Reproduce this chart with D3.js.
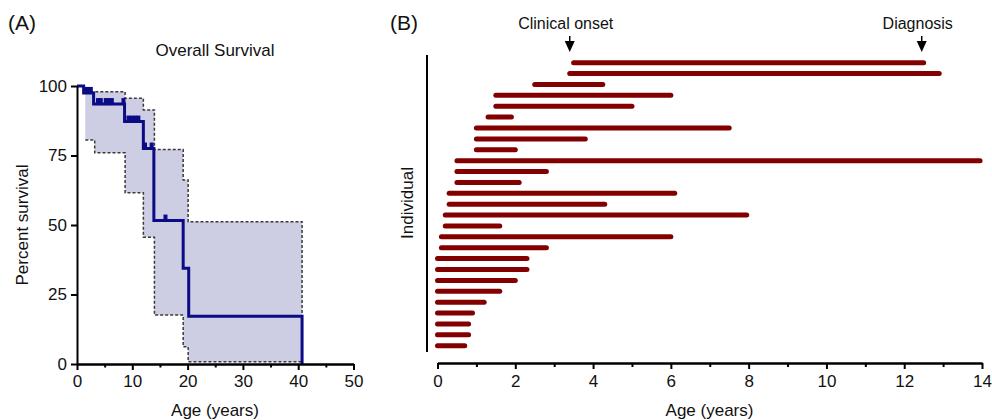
<!DOCTYPE html>
<html>
<head>
<meta charset="utf-8">
<script src="https://cdn.jsdelivr.net/npm/d3@7"></script>
<style>
  body { margin: 0; background: #fff; }
  svg { display: block; font-family: "Liberation Sans", Arial, Helvetica, sans-serif; }
</style>
</head>
<body>
<div id="wrapper"></div>
<script>
// ---- panel A: Kaplan-Meier overall survival ----
const kmTime = [0, 1.2, 3.0, 8.6, 12.0, 13.9, 19.2, 20.2, 40.7]
const kmSurv = [100, 97.5, 93.5, 87.2, 77.5, 51.6, 34.4, 17.2, 0]
const censorTime = [1.6, 2.0, 2.5, 3.8, 4.3, 5.2, 5.7, 6.3, 8.4, 9.3, 9.9, 10.5, 11.1, 12.3, 13.5, 16.0]
// 95% confidence band
const bandTime  = [1.5, 3.2, 8.7, 12.0, 14.0, 19.2, 20.1, 40.7]
const bandUpper = [97.9, 97.9, 95.6, 91.4, 77.2, 66.2, 51.2, 51.2]
const bandLower = [80.6, 76.0, 61.6, 45.6, 17.6, 6.2, 0.8, 0.8]
const survTicksMajor = [0, 10, 20, 30, 40, 50]
const survTicksMinor = [5, 15, 25, 35, 45]
const survYTicks = [0, 25, 50, 75, 100]

// ---- panel B: age at clinical onset -> diagnosis, one row per individual ----
const onsetAge     = [3.5, 3.4, 2.5, 1.5, 1.5, 1.3, 1.0, 1.0, 1.0, 0.5, 0.5, 0.5, 0.3, 0.3, 0.2, 0.2, 0.1, 0.1, 0, 0, 0, 0, 0, 0, 0, 0, 0]
const diagnosisAge = [12.5, 12.9, 4.25, 6.0, 5.0, 1.9, 7.5, 3.8, 2.0, 13.95, 2.8, 2.1, 6.1, 4.3, 7.95, 1.6, 6.0, 2.8, 2.3, 2.3, 2.0, 1.6, 1.2, 0.9, 0.8, 0.8, 0.7]
const markerLabels = ["Clinical onset", "Diagnosis"]
const markerAges   = [3.4, 12.45]
const ageTicksMajor = [0, 2, 4, 6, 8, 10, 12, 14]
const ageTicksMinor = [1, 3, 5, 7, 9, 11, 13]

const W = 992, H = 420
const navy = "#0b0b86", band = "#cdcde4", barRed = "#820000", ink = "#111"

const svg = d3.select("#wrapper").append("svg")
    .attr("width", W).attr("height", H)

function styleAxis(g) {
    g.attr("font-size", null).attr("font-family", null)
    g.select(".domain").attr("stroke", "#000").attr("stroke-width", 2)
    g.selectAll(".tick line").attr("stroke", "#000").attr("stroke-width", 2)
    g.selectAll(".tick text").attr("fill", ink).style("font-size", "17px")
}

// ================= panel A =================
const xA = d3.scaleLinear().domain([0, 50]).range([77, 353.5])
const yA = d3.scaleLinear().domain([0, 100]).range([364, 86])

// confidence band
const bandPts = bandTime.map((t, i) => ({t: t, lo: bandLower[i], hi: bandUpper[i]}))
svg.append("path")
    .datum(bandPts)
    .attr("fill", band)
    .attr("d", d3.area().curve(d3.curveStepAfter)
        .x(d => xA(d.t)).y0(d => yA(d.lo)).y1(d => yA(d.hi)))

const lineA = d3.line().curve(d3.curveStepAfter).x(d => xA(d[0])).y(d => yA(d[1]))
const nB = bandTime.length
const upperPts = bandTime.map((t, i) => [t, i == nB - 1 ? bandLower[i] : bandUpper[i]])
const lowerPts = bandTime.map((t, i) => [t, bandLower[i]])
for (pts of [upperPts, lowerPts]) {
    svg.append("path")
        .datum(pts)
        .attr("fill", "none")
        .attr("stroke", "#3a3a3a")
        .attr("stroke-width", 1.5)
        .attr("stroke-dasharray", "3,2")
        .attr("d", lineA)
}

// survival step curve
const kmPts = kmTime.map((t, i) => [t, kmSurv[i]])
svg.append("path")
    .datum(kmPts)
    .attr("fill", "none")
    .attr("stroke", navy)
    .attr("stroke-width", 3)
    .attr("d", lineA)

// censor ticks sit on the curve level at that time
function survAt(t) {
    let s = kmSurv[0]
    kmTime.forEach((k, i) => { if (k <= t) s = kmSurv[i] })
    return s
}
svg.selectAll(".censor")
    .data(censorTime)
    .enter()
    .append("line")
        .attr("class", "censor")
        .attr("x1", d => xA(d)).attr("x2", d => xA(d))
        .attr("y1", d => yA(survAt(d)) + 1)
        .attr("y2", d => yA(survAt(d)) - 6)
        .attr("stroke", navy)
        .attr("stroke-width", 4)

// axes A
svg.append("g")
    .attr("transform", `translate(0,${yA(0)})`)
    .call(d3.axisBottom(xA).tickValues(survTicksMajor).tickSize(6).tickSizeOuter(0).tickPadding(5))
    .call(styleAxis)
svg.append("g")
    .attr("transform", `translate(0,${yA(0)})`)
    .call(d3.axisBottom(xA).tickValues(survTicksMinor).tickSize(3.5).tickSizeOuter(0).tickFormat(""))
    .call(styleAxis)
svg.append("g")
    .attr("transform", `translate(${xA(0)},0)`)
    .call(d3.axisLeft(yA).tickValues(survYTicks).tickSize(6).tickSizeOuter(0).tickPadding(4))
    .call(styleAxis)

svg.append("text").attr("x", 8).attr("y", 30).attr("font-size", 21).attr("fill", ink).text("(A)")
svg.append("text").attr("x", 215).attr("y", 56).attr("text-anchor", "middle")
    .attr("font-size", 17).attr("fill", ink).text("Overall Survival")
svg.append("text").attr("transform", "translate(28,225) rotate(-90)").attr("text-anchor", "middle")
    .attr("font-size", 17).attr("fill", ink).text("Percent survival")
svg.append("text").attr("x", 215).attr("y", 416).attr("text-anchor", "middle")
    .attr("font-size", 17).attr("fill", ink).text("Age (years)")

// ================= panel B =================
const xB = d3.scaleLinear().domain([0, 14]).range([437.5, 982])
const yB = d3.scalePoint().domain(d3.range(onsetAge.length)).range([62.7, 345.7])

svg.selectAll(".span")
    .data(onsetAge.map((a, i) => ({i: i, from: a, to: diagnosisAge[i]})))
    .enter()
    .append("line")
        .attr("class", "span")
        .attr("x1", d => xB(d.from))
        .attr("x2", d => xB(d.to))
        .attr("y1", d => yB(d.i))
        .attr("y2", d => yB(d.i))
        .attr("stroke", barRed)
        .attr("stroke-width", 5)
        .attr("stroke-linecap", "round")

// "Individual" axis: a bare line
svg.append("line")
    .attr("x1", 427).attr("x2", 427).attr("y1", 55).attr("y2", 352)
    .attr("stroke", "#000").attr("stroke-width", 2)
svg.append("text").attr("transform", "translate(413,203) rotate(-90)").attr("text-anchor", "middle")
    .attr("font-size", 17).attr("fill", ink).text("Individual")

svg.append("g")
    .attr("transform", "translate(0,363)")
    .call(d3.axisBottom(xB).tickValues(ageTicksMajor).tickSize(6).tickSizeOuter(0).tickPadding(6))
    .call(styleAxis)
svg.append("g")
    .attr("transform", "translate(0,363)")
    .call(d3.axisBottom(xB).tickValues(ageTicksMinor).tickSize(4).tickSizeOuter(0).tickFormat(""))
    .call(styleAxis)
svg.append("text").attr("x", 709.5).attr("y", 416).attr("text-anchor", "middle")
    .attr("font-size", 17).attr("fill", ink).text("Age (years)")

svg.append("text").attr("x", 390).attr("y", 30).attr("font-size", 21).attr("fill", ink).text("(B)")

// onset / diagnosis markers
markerAges.forEach(function(a, i) {
    const x = xB(a)
    svg.append("text").attr("x", x - 4).attr("y", 29).attr("text-anchor", "middle")
        .attr("font-size", 16).attr("fill", ink).text(markerLabels[i])
    svg.append("line").attr("x1", x).attr("x2", x).attr("y1", 36).attr("y2", 42)
        .attr("stroke", "#000").attr("stroke-width", 1.5)
    svg.append("path")
        .attr("d", `M${x - 5},41 L${x + 5},41 L${x},52 Z`)
        .attr("fill", "#000")
})
</script>
</body>
</html>
